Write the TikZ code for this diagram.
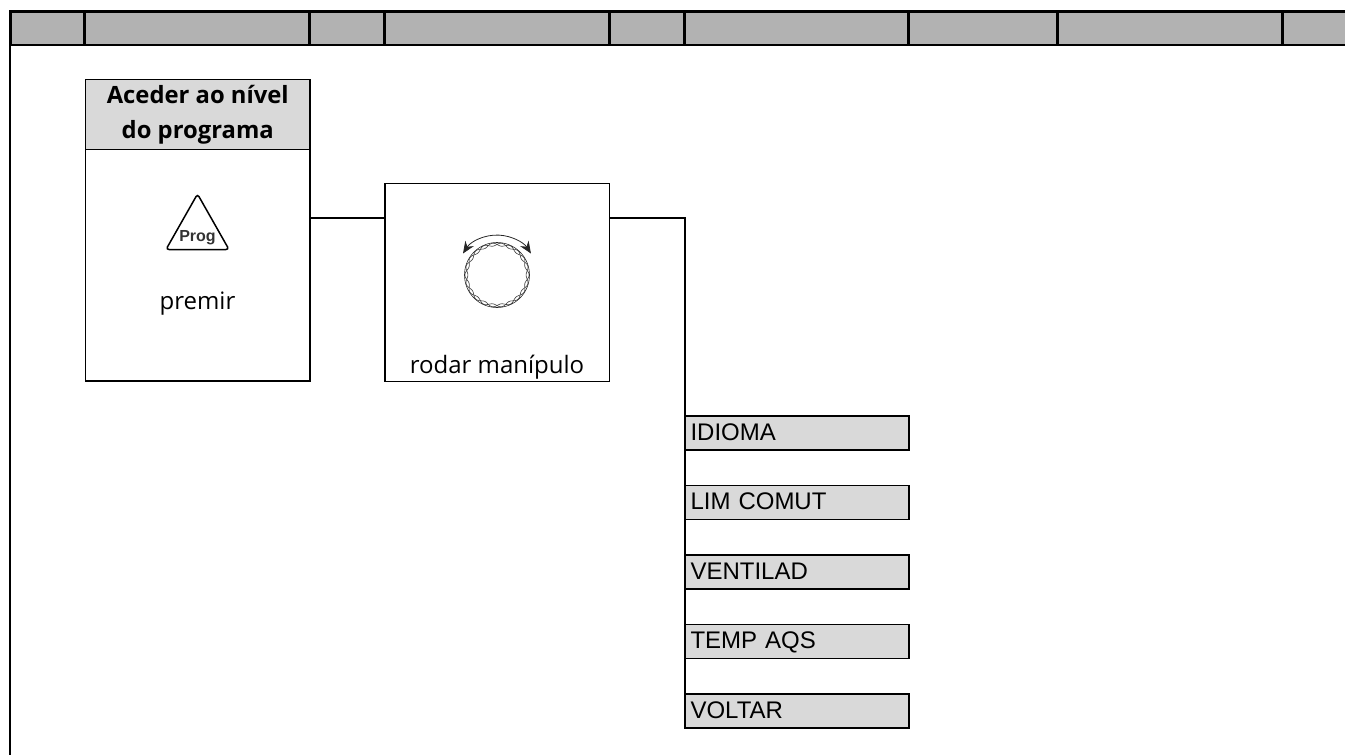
\documentclass[tikz,border=0pt]{standalone}
\usepackage{fontspec}
\setmainfont{Liberation Sans}
\newfontfamily\labelfont{Open Sans}
\usetikzlibrary{positioning, arrows.meta}
\definecolor{bandgray}{HTML}{B2B2B2}
\definecolor{boxgray}{HTML}{D9D9D9}
\tikzset{
    boxline/.style={line width=1.3pt},
    bandline/.style={line width=3pt},
    titlebox/.style={draw, boxline, fill=boxgray, outer sep=0pt, minimum width=224.5pt, minimum height=70pt, inner sep=0pt, align=center, font=\labelfont\bfseries\fontsize{23.8}{35}\selectfont},
    stepbox/.style={draw, boxline, outer sep=0pt, minimum width=224.5pt, inner sep=0pt},
    menubox/.style={draw, boxline, fill=boxgray, outer sep=0pt, minimum width=224pt, minimum height=34pt, text width=213pt, text height=18pt, text depth=4pt, inner xsep=5.5pt, inner ysep=0pt, align=left, font=\fontsize{24}{28}\selectfont},
    caption/.style={font=\labelfont\fontsize{24}{28}\selectfont},
}
\begin{document}
\begin{tikzpicture}[x=1pt, y=-1pt]
        \useasboundingbox (0,0) rectangle (1345,755);
        % band on top
        \fill[bandgray] (10,11) rectangle (1345,45);
        \draw[bandline] (9,11) -- (1345,11);
        \draw[boxline, line width=1.8pt] (10,45) -- (1345,45);
        \foreach \x in {10,84.7,309.7,384.7,609.3,684.7,908.7,1057.7,1282.7}
            \draw[bandline] (\x,11) -- (\x,45);
        \draw[boxline] (10,45) -- (10,755);
        % first column
        \node[titlebox, anchor=north west] (title) at (85.5,79.5) {Aceder ao nível\\do programa};
        \node[stepbox, minimum height=231.5pt, below=0pt of title] (premir) {};
        \node[caption, anchor=base] (premirtext) at (197.5,309.5) {premir};
        \node[inner sep=0pt, anchor=base, font=\bfseries\fontsize{16}{18}\selectfont, text=black!80] (prog) at (197.5,241.5) {Prog};
        \draw[line width=1.5pt, rounded corners=3pt] (197.5,194) -- (229,249.5) -- (166,249.5) -- cycle;
        % second column
        \node[stepbox, minimum height=198pt, anchor=north west] (rodar) at (385,183.5) {};
        \node[caption, anchor=base] (rodartext) at (497,373.5) {rodar manípulo};
        \coordinate (knob) at (497,275);
        \draw[line width=0.6pt, black!85] (knob) circle (32.5pt);
        \draw[line width=0.6pt, black!75] plot[smooth, domain=0:360, samples=145] ({497+(30.6+1.5*cos(11*\x))*cos(\x)}, {275+(30.6+1.5*cos(11*\x))*sin(\x)});
        \draw[line width=0.6pt, black!75] plot[smooth, domain=0:360, samples=145] ({497+(30.6-1.5*cos(11*\x))*cos(\x)}, {275+(30.6-1.5*cos(11*\x))*sin(\x)});
        \draw[line width=0.8pt, black!85, {Stealth[length=12pt, width=10pt]}-{Stealth[length=12pt, width=10pt]}] (463,253.5) arc[start angle=147, end angle=33, radius=40.5pt];
        % menu column
        \node[menubox, anchor=north west] (idioma) at (685,416) {IDIOMA};
        \node[menubox, below=35.5pt of idioma] (limcomut) {LIM COMUT};
        \node[menubox, below=35.5pt of limcomut] (ventilad) {VENTILAD};
        \node[menubox, below=35.5pt of ventilad] (tempaqs) {TEMP AQS};
        \node[menubox, below=35.5pt of tempaqs] (voltar) {VOLTAR};
        % connectors
        \coordinate (elbow) at (685,218);
        \draw[boxline] (premir.east |- elbow) -- (rodar.west |- elbow);
        \draw[boxline] (rodar.east |- elbow) -- (elbow) -- (voltar.south west);
\end{tikzpicture}
\end{document}
